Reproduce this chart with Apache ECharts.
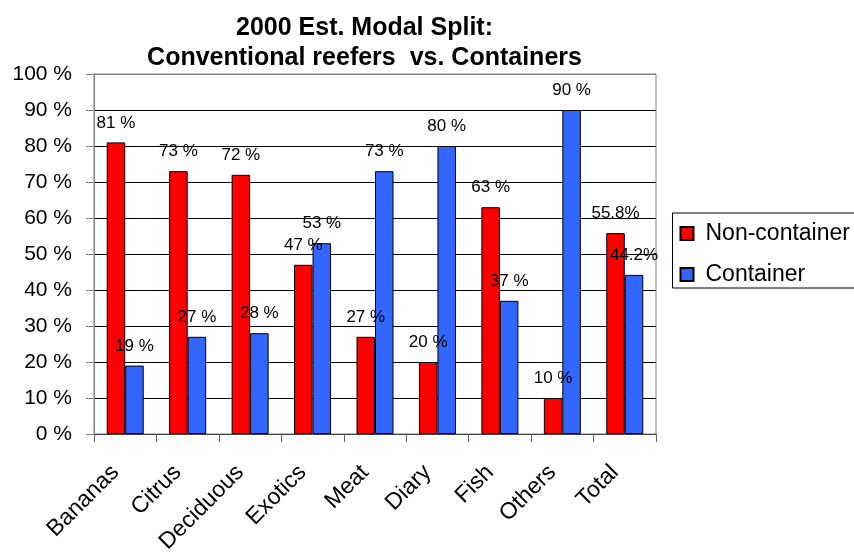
<!DOCTYPE html>
<html>
<head>
<meta charset="utf-8">
<script src="https://cdn.jsdelivr.net/npm/echarts@6/dist/echarts.min.js"></script>
<style>
  html, body { margin: 0; padding: 0; background: #ffffff; }
  #chart { width: 854px; height: 552px; }
</style>
</head>
<body>
<div id="chart"></div>
<script>
// Cargo categories and modal split shares (percent)
const categories = ['Bananas', 'Citrus', 'Deciduous', 'Exotics', 'Meat', 'Diary', 'Fish', 'Others', 'Total'];
const nonContainer = [81, 73, 72, 47, 27, 20, 63, 10, 55.8];
const container = [19, 27, 28, 53, 73, 80, 37, 90, 44.2];
const seriesNames = ['Non-container', 'Container'];
const titleLines = ['2000 Est. Modal Split:', 'Conventional reefers  vs. Containers'];

const FONT = '"Liberation Sans", Arial, sans-serif';

function pctLabel(p) {
  const v = p.value;
  return Number.isInteger(v) ? v + ' %' : v.toFixed(1) + '%';
}

// gridlines: black inside, grey at the top edge
const splitColors = [];
for (let i = 0; i <= 10; i++) splitColors.push(i === 10 ? '#808080' : '#000000');

const chart = echarts.init(document.getElementById('chart'), null, { renderer: 'canvas' });

const barLabel = {
  show: true,
  position: 'top',
  distance: 11,
  formatter: pctLabel,
  color: '#000',
  fontFamily: FONT,
  fontSize: 17
};

chart.setOption({
  animation: false,
  backgroundColor: '#ffffff',
  title: {
    text: titleLines.join('\n'),
    left: 359.5,
    top: 8,
    textAlign: 'center',
    textStyle: {
      fontFamily: FONT,
      fontWeight: 'bold',
      fontSize: 25,
      lineHeight: 30,
      color: '#000'
    }
  },
  legend: {
    orient: 'vertical',
    left: 672.5,
    top: 213,
    padding: [9, 5, 2, 7],
    itemWidth: 13,
    itemHeight: 13,
    itemGap: 18,
    borderColor: '#000',
    borderWidth: 1,
    icon: 'rect',
    textStyle: {
      fontFamily: FONT,
      fontSize: 23,
      lineHeight: 23,
      color: '#000',
      padding: [0, 0, 0, 7]
    },
    data: seriesNames
  },
  grid: {
    left: 94,
    right: 198,
    top: 74,
    bottom: 118,
    show: true,
    borderColor: '#808080',
    borderWidth: 1,
    containLabel: false,
    outerBoundsMode: 'none'
  },
  xAxis: {
    type: 'category',
    data: categories,
    axisLine: { show: true, lineStyle: { color: '#404040', width: 1 } },
    axisTick: { show: true, length: 8, lineStyle: { color: '#606060' } },
    axisLabel: {
      rotate: 45,
      margin: 25,
      interval: 0,
      padding: [0, 14, 0, 0],
      fontFamily: FONT,
      fontSize: 23,
      color: '#000'
    },
    splitLine: { show: false }
  },
  yAxis: {
    type: 'value',
    min: 0,
    max: 100,
    interval: 10,
    axisLine: { show: true, lineStyle: { color: '#808080', width: 1 } },
    axisTick: { show: true, length: 8, lineStyle: { color: '#808080' } },
    axisLabel: {
      formatter: '{value} %',
      margin: 22,
      fontFamily: FONT,
      fontSize: 21,
      color: '#000'
    },
    splitLine: { show: true, lineStyle: { color: splitColors, width: 1 } }
  },
  series: [
    {
      name: seriesNames[0],
      type: 'bar',
      data: nonContainer,
      barWidth: 18.5,
      barGap: '0%',
      itemStyle: { color: '#FF0000', borderColor: '#000', borderWidth: 1 },
      label: barLabel
    },
    {
      name: seriesNames[1],
      type: 'bar',
      data: container,
      barWidth: 18.5,
      barGap: '0%',
      itemStyle: { color: '#3366FF', borderColor: '#000', borderWidth: 1 },
      label: barLabel
    }
  ]
});
</script>
</body>
</html>
